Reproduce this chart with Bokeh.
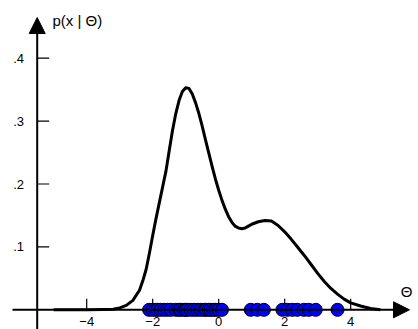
from bokeh.plotting import figure
from bokeh.models import Arrow, NormalHead, Range1d, Label
from bokeh.core.properties import value
from bokeh.embed import file_html
from bokeh.resources import INLINE

# density curve
curve_x = [-5.0, -4.5, -4.0, -3.5, -3.2, -3.0, -2.8, -2.6, -2.4, -2.3, -2.2, -2.1, -2.0, -1.9,
           -1.8, -1.7, -1.6, -1.5, -1.4, -1.3, -1.2, -1.1, -1.0, -0.9, -0.8, -0.7, -0.6, -0.5,
           -0.4, -0.3, -0.2, -0.1, 0.0, 0.1, 0.2, 0.3, 0.4, 0.5, 0.6, 0.7, 0.8, 0.9, 1.0, 1.2,
           1.4, 1.6, 1.8, 2.0, 2.2, 2.4, 2.6, 2.8, 3.0, 3.2, 3.4, 3.6, 3.8, 4.0, 4.3, 4.6, 4.9]
curve_y = [0.0, 0.0, 0.0, 0.0005, 0.001, 0.003, 0.007, 0.015, 0.031, 0.046, 0.064, 0.090,
           0.118, 0.145, 0.170, 0.195, 0.220, 0.253, 0.285, 0.312, 0.333, 0.347, 0.353, 0.352,
           0.343, 0.329, 0.312, 0.292, 0.270, 0.249, 0.228, 0.208, 0.190, 0.174, 0.160, 0.148,
           0.139, 0.133, 0.130, 0.129, 0.130, 0.133, 0.136, 0.140, 0.142, 0.141, 0.134, 0.124,
           0.112, 0.099, 0.086, 0.072, 0.058, 0.045, 0.034, 0.025, 0.017, 0.011, 0.006, 0.002,
           0.0]

# sample points on the axis
samples = [-2.11, -2.0, -1.91, -1.85, -1.76, -1.65, -1.55, -1.45, -1.3, -1.2, -1.15, -1.05,
           -1.0, -0.95, -0.85, -0.75, -0.65, -0.55, -0.45, -0.39, -0.3, -0.24, -0.15, -0.09,
           0.0, 0.1, 0.97, 1.17, 1.37, 1.93, 2.08, 2.23, 2.38, 2.58, 2.73, 2.94, 3.6]

x_ticks = [-4, -2, 0, 2, 4]
x_tick_labels = ["\u22124", "\u22122", "0", "2", "4"]
y_ticks = [0.1, 0.2, 0.3, 0.4]
y_tick_labels = [".1", ".2", ".3", ".4"]

W, H = 418, 329
PX_X0, SX = 218.2, 33.0      # pixel of x=0, px per unit
PX_Y0, SY = 309.3, 629.0     # pixel of y=0, px per unit


def dx(px):
    return (px - PX_X0) / SX


def dy(py):
    return (PX_Y0 - py) / SY


p = figure(width=W, height=H, output_backend="svg", toolbar_location=None,
           x_range=Range1d(dx(0), dx(W)), y_range=Range1d(dy(H), dy(0)),
           min_border=0, outline_line_color=None)
p.xaxis.visible = False
p.yaxis.visible = False
p.grid.visible = False
p.background_fill_color = "white"
p.border_fill_color = "white"

axis_x = dx(36.7)

# axes with arrow heads
p.add_layout(Arrow(end=NormalHead(size=16, fill_color="black", line_color="black", line_width=1),
                   x_start=axis_x, y_start=dy(H + 2), x_end=axis_x, y_end=dy(17),
                   line_width=2, line_color="black"))
p.add_layout(Arrow(end=NormalHead(size=16, fill_color="black", line_color="black", line_width=1),
                   x_start=dx(12), y_start=0, x_end=dx(409), y_end=0,
                   line_width=2, line_color="black"))

# ticks
p.segment(x0=x_ticks, y0=[0] * len(x_ticks), x1=x_ticks,
          y1=[11 / SY] * len(x_ticks), line_color="black", line_width=1.2)
p.segment(x0=[axis_x] * len(y_ticks), y0=y_ticks, x1=[axis_x + 12 / SX] * len(y_ticks),
          y1=y_ticks, line_color="black", line_width=1.2)

p.text(x=x_ticks, y=[dy(316)] * len(x_ticks), text=x_tick_labels,
       text_font=value("Liberation Sans"), text_font_size="13px",
       text_align="center", text_baseline="top", text_color="black")
p.text(x=[dx(23.5)] * len(y_ticks), y=y_ticks, text=y_tick_labels,
       text_font=value("Liberation Sans"), text_font_size="13px",
       text_align="right", text_baseline="middle", text_color="black")

# curve
p.line(curve_x, curve_y, line_color="black", line_width=3, line_join="round")

# samples
p.scatter(samples, [0] * len(samples), size=13, fill_color="#0000ff",
          line_color="black", line_width=1)

p.add_layout(Label(x=dx(52), y=dy(19.5), text="p(x | \u0398)",
                   text_font="Liberation Sans", text_font_size="15px",
                   text_align="left", text_baseline="middle", text_color="black"))
p.add_layout(Label(x=dx(406), y=dy(290.5), text="\u0398",
                   text_font="Liberation Sans", text_font_size="15px",
                   text_align="center", text_baseline="middle", text_color="black"))

open("out.html", "w").write(file_html(p, INLINE))
